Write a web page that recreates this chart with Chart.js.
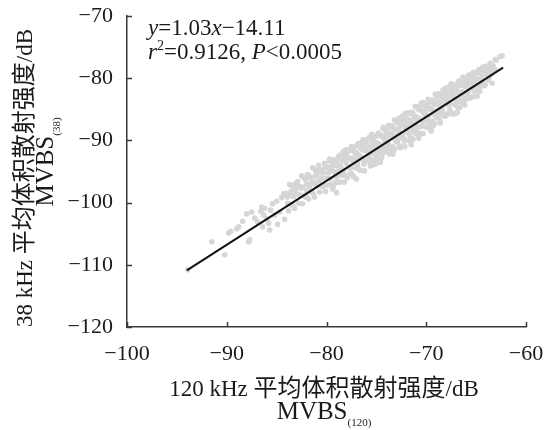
<!DOCTYPE html>
<html>
<head>
<meta charset="utf-8">
<script src="https://cdn.jsdelivr.net/npm/chart.js@4/dist/chart.umd.min.js"></script>
<style>
  html, body { margin: 0; padding: 0; background: #fff; }
  #wrap { width: 545px; height: 430px; position: relative; }
</style>
</head>
<body>
<div id="wrap"><canvas id="mvbsChart" width="545" height="430"></canvas></div>
<script>
// 120 kHz MVBS (x) and 38 kHz MVBS (y), dB
const mvbs120 = [
  -93.9, -91.5, -90.2, -89.8, -89.6, -89.0, -88.8, -88.4, -88.0, -87.8, -87.7, -87.5, -87.2, -86.9, -86.6, -86.5, -86.4, -86.3, -86.2, -86.0, -85.8, -85.7, -85.6, -85.4, -85.2, -85.0, -84.9, -84.7, -84.5, -84.3, -84.2,
  -84.0, -83.9, -83.8, -83.7, -83.6, -83.5, -83.4, -83.3, -83.2, -83.1,
  -83.0, -82.9, -82.8, -82.7, -82.6, -82.5, -82.4, -82.3, -82.2, -82.1, -82.05,
  -82.0, -81.9, -81.8, -81.7, -81.6, -81.5, -81.4, -81.3, -81.2, -81.1, -81.05,
  -81.0, -80.9, -80.8, -80.7, -80.6, -80.5, -80.4, -80.3, -80.2, -80.1, -80.05,
  -80.0, -79.9, -79.8, -79.7, -79.6, -79.5, -79.4, -79.3, -79.2, -79.1, -79.05, -79.0,
  -79.0, -78.9, -78.8, -78.7, -78.6, -78.5, -78.4, -78.3, -78.2, -78.1, -78.05, -78.75, -78.45, -78.15,
  -78.0, -77.9, -77.8, -77.7, -77.6, -77.5, -77.4, -77.3, -77.2, -77.1, -77.05, -77.85, -77.55, -77.25, -77.0,
  -77.0, -76.9, -76.8, -76.7, -76.6, -76.5, -76.4, -76.3, -76.2, -76.1, -76.85, -76.55, -76.25, -76.05, -76.75, -76.45,
  -76.0, -75.9, -75.8, -75.7, -75.6, -75.5, -75.4, -75.3, -75.2, -75.1, -75.95, -75.65, -75.35, -75.05, -75.75, -75.45, -75.15,
  -75.0, -74.9, -74.8, -74.7, -74.6, -74.5, -74.4, -74.3, -74.2, -74.1, -74.95, -74.65, -74.35, -74.05, -74.75, -74.45, -74.15,
  -74.0, -73.9, -73.8, -73.7, -73.6, -73.5, -73.4, -73.3, -73.2, -73.1, -73.95, -73.65, -73.35, -73.05, -73.75, -73.45, -73.15,
  -73.0, -72.9, -72.8, -72.7, -72.6, -72.5, -72.4, -72.3, -72.2, -72.1, -72.95, -72.65, -72.35, -72.05, -72.75, -72.45, -72.15,
  -72.0, -71.9, -71.8, -71.7, -71.6, -71.5, -71.4, -71.3, -71.2, -71.1, -71.95, -71.65, -71.35, -71.05, -71.75, -71.45, -71.15,
  -71.0, -70.9, -70.8, -70.7, -70.6, -70.5, -70.4, -70.3, -70.2, -70.1, -70.95, -70.65, -70.35, -70.05, -70.75, -70.45, -70.15,
  -70.0, -69.9, -69.8, -69.7, -69.6, -69.5, -69.4, -69.3, -69.2, -69.1, -69.95, -69.65, -69.35, -69.05, -69.75, -69.45, -69.15,
  -69.0, -68.9, -68.8, -68.7, -68.6, -68.5, -68.4, -68.3, -68.2, -68.1, -68.95, -68.65, -68.35, -68.05, -68.75, -68.45, -68.15,
  -68.0, -67.9, -67.8, -67.7, -67.6, -67.5, -67.4, -67.3, -67.2, -67.1, -67.95, -67.65, -67.35, -67.05, -67.75, -67.45, -67.15,
  -67.0, -66.9, -66.8, -66.7, -66.6, -66.5, -66.4, -66.3, -66.2, -66.1, -66.95, -66.65, -66.35, -66.05, -66.75, -66.45, -66.15, -66.8,
  -66.0, -65.9, -65.8, -65.7, -65.6, -65.5, -65.4, -65.3, -65.2, -65.1, -65.95, -65.65, -65.35, -65.05, -65.75, -65.25,
  -65.0, -64.9, -64.8, -64.7, -64.6, -64.5, -64.4, -64.3, -64.2, -64.1, -64.95, -64.65, -64.35, -64.05, -64.75, -64.45, -64.1,
  -64.0, -63.9, -63.8, -63.7, -63.6, -63.5, -63.4, -63.3, -63.1, -63.0, -62.6, -62.4, -63.1, -63.5,
  // second pass, filling the band
  -83.95, -83.75, -83.55, -83.35, -83.15,
  -82.95, -82.75, -82.55, -82.35, -82.15,
  -81.95, -81.75, -81.55, -81.35, -81.15,
  -80.95, -80.75, -80.55, -80.35, -80.15,
  -79.92, -79.82, -79.72, -79.62, -79.52, -79.42, -79.32, -79.22, -79.12, -79.02,
  -78.92, -78.82, -78.72, -78.62, -78.52, -78.42, -78.32, -78.22, -78.12, -78.02,
  -77.92, -77.82, -77.72, -77.62, -77.52, -77.42, -77.32, -77.22, -77.12, -77.02,
  -76.92, -76.82, -76.72, -76.62, -76.52, -76.42, -76.32, -76.22, -76.12, -76.02,
  -75.92, -75.82, -75.72, -75.62, -75.52, -75.42, -75.32, -75.22, -75.12, -75.02,
  -74.92, -74.82, -74.72, -74.62, -74.52, -74.42, -74.32, -74.22, -74.12, -74.02,
  -73.92, -73.82, -73.72, -73.62, -73.52, -73.42, -73.32, -73.22, -73.12, -73.02,
  -72.92, -72.82, -72.72, -72.62, -72.52, -72.42, -72.32, -72.22, -72.12, -72.02,
  -71.92, -71.82, -71.72, -71.62, -71.52, -71.42, -71.32, -71.22, -71.12, -71.02,
  -70.92, -70.82, -70.72, -70.62, -70.52, -70.42, -70.32, -70.22, -70.12, -70.02,
  -69.92, -69.82, -69.72, -69.62, -69.52, -69.42, -69.32, -69.22, -69.12, -69.02,
  -68.92, -68.82, -68.72, -68.62, -68.52, -68.42, -68.32, -68.22, -68.12, -68.02,
  -67.92, -67.82, -67.72, -67.62, -67.52, -67.42, -67.32, -67.22, -67.12, -67.02,
  -66.92, -66.82, -66.72, -66.62, -66.52, -66.42, -66.32, -66.22, -66.12, -66.02,
  -65.92, -65.82, -65.72, -65.62, -65.52, -65.42, -65.32, -65.22, -65.12, -65.02,
  -64.92, -64.82, -64.72, -64.62, -64.52, -64.42, -64.32, -64.22, -64.12, -64.02,
  -63.92, -63.72, -63.52, -63.32
];
const mvbs38 = [
  -110.8, -106.3, -108.4, -104.9, -104.6, -104.2, -103.9, -103.0, -101.8, -106.3, -106.0, -101.5, -102.5, -103.1, -101.4, -100.7, -103.9, -102.0, -100.9, -102.6, -103.3, -104.4, -101.2, -100.2, -102.0, -99.8, -103.5, -101.5, -99.2, -98.6, -102.7,
  -98.5, -100.1, -101.3, -97.1, -98.9, -100.4, -97.5, -99.0, -100.9, -97.9,
  -98.6, -96.6, -100.1, -97.4, -98.9, -95.7, -100.2, -97.5, -98.8, -96.3, -99.1,
  -97.0, -95.5, -99.4, -97.6, -96.0, -98.3, -94.4, -96.7, -99.1, -94.9, -97.2,
  -95.6, -97.3, -94.0, -98.3, -94.7, -96.1, -97.4, -95.2, -93.7, -98.2, -96.1,
  -94.3, -97.2, -95.2, -93.0, -96.2, -94.2, -97.8, -93.1, -95.1, -96.8, -94.0, -98.4,
  -93.5, -95.1, -96.7, -92.4, -94.1, -95.6, -92.6, -94.8, -96.7, -93.1, -91.5, -95.4, -93.2, -95.6,
  -93.7, -96.0, -91.7, -92.9, -94.4, -91.0, -93.4, -95.9, -91.7, -94.4, -90.9, -92.7, -95.3, -92.8, -96.2,
  -92.0, -93.9, -90.5, -92.5, -94.8, -90.9, -93.0, -91.6, -94.9, -90.0, -93.1, -91.3, -93.8, -91.6, -94.6, -90.3,
  -90.6, -93.1, -91.8, -89.5, -94.1, -90.7, -92.1, -89.5, -93.1, -90.8, -89.9, -93.0, -90.1, -93.8, -92.1, -89.0, -91.3,
  -90.4, -93.0, -88.8, -90.8, -93.5, -89.3, -91.2, -87.9, -89.6, -91.6, -89.3, -91.9, -89.4, -88.1, -91.2, -92.7, -90.0,
  -88.9, -90.9, -87.6, -92.2, -89.3, -87.9, -91.0, -89.5, -86.7, -89.8, -90.1, -87.9, -92.2, -88.2, -91.1, -88.8, -91.3,
  -87.1, -90.3, -88.3, -86.4, -91.2, -87.3, -88.9, -86.6, -90.1, -88.0, -89.2, -87.8, -89.5, -85.6, -89.6, -86.3, -91.0,
  -86.6, -88.7, -85.6, -90.0, -87.2, -90.7, -85.5, -88.4, -86.3, -84.5, -87.9, -89.1, -85.7, -88.9, -86.7, -87.7, -87.7,
  -86.2, -89.0, -84.6, -86.7, -87.8, -84.0, -85.3, -88.9, -85.8, -84.3, -86.7, -85.1, -87.0, -87.8, -89.6, -84.2, -85.5,
  -84.6, -86.8, -83.4, -88.1, -84.9, -88.5, -83.5, -85.8, -84.2, -82.6, -86.0, -83.9, -86.9, -85.8, -87.0, -85.1, -87.3,
  -83.8, -86.3, -82.5, -84.9, -87.2, -82.9, -85.2, -82.2, -83.7, -86.1, -82.9, -83.8, -86.0, -81.6, -85.8, -84.3, -82.8,
  -83.4, -85.8, -81.5, -82.6, -84.2, -80.9, -85.7, -83.0, -81.4, -84.3, -82.5, -85.1, -81.3, -82.3, -83.8, -82.2, -85.7,
  -81.1, -85.5, -82.3, -80.4, -83.6, -81.1, -84.1, -82.2, -80.2, -81.2, -82.0, -83.0, -80.2, -83.3, -81.2, -82.2, -84.3, -84.8,
  -80.8, -82.4, -79.7, -81.2, -83.2, -79.9, -81.5, -79.1, -82.1, -80.2, -83.3, -79.8, -80.6, -81.4, -81.5, -79.8,
  -79.2, -82.9, -80.2, -78.6, -81.3, -79.3, -80.2, -78.5, -81.2, -79.2, -80.6, -79.1, -80.8, -78.1, -82.1, -79.6, -81.1,
  -79.4, -78.2, -80.3, -78.6, -77.6, -79.3, -80.8, -78.0, -78.6, -77.1, -76.5, -76.4, -77.0, -77.9,
  // second pass
  -99.1, -100.2, -98.2, -100.5, -97.0,
  -97.4, -98.7, -97.7, -95.9, -99.0,
  -98.2, -95.7, -96.9, -98.5, -95.8,
  -94.7, -96.5, -95.2, -97.1, -94.3,
  -94.4, -96.1, -93.3, -97.1, -94.7, -93.4, -97.5, -95.0, -93.9, -95.9,
  -95.6, -92.7, -94.3, -96.7, -92.9, -94.7, -91.8, -95.6, -93.3, -92.2,
  -92.6, -94.3, -91.5, -95.3, -92.9, -91.6, -95.7, -93.2, -92.0, -94.0,
  -93.7, -90.8, -92.4, -94.8, -91.0, -92.8, -89.9, -93.7, -91.4, -90.3,
  -90.8, -92.5, -89.7, -93.5, -91.1, -89.8, -93.9, -91.4, -90.3, -92.3,
  -91.9, -89.0, -90.6, -93.0, -89.2, -91.0, -88.1, -91.9, -89.6, -88.5,
  -88.8, -90.4, -87.6, -91.4, -89.0, -87.7, -91.8, -89.3, -88.2, -90.2,
  -89.8, -86.9, -88.5, -90.9, -87.1, -88.9, -86.0, -89.8, -87.5, -86.4,
  -86.7, -88.4, -85.6, -89.4, -87.0, -85.7, -89.8, -87.3, -86.2, -88.2,
  -87.8, -84.9, -86.5, -88.9, -85.1, -86.8, -83.9, -87.7, -85.4, -84.3,
  -84.6, -86.3, -83.5, -87.3, -84.9, -83.6, -87.7, -85.2, -84.1, -86.1,
  -85.7, -82.8, -84.4, -86.8, -83.0, -84.8, -81.9, -85.7, -83.4, -82.3,
  -82.6, -84.3, -81.5, -85.3, -82.9, -81.6, -85.7, -83.2, -82.0, -84.0,
  -83.6, -80.7, -82.3, -84.7, -80.9, -82.7, -79.8, -83.6, -81.3, -80.2,
  -80.5, -82.2, -79.5, -83.0, -80.8, -79.5, -83.0, -81.1, -80.0, -82.0,
  -80.4, -78.8, -80.3, -82.1, -79.1, -80.7, -78.2, -81.1, -79.3, -78.4,
  -79.0, -80.0, -77.9, -78.7
];

// fitted line y = 1.03x - 14.11, end points
const fitX = [-94.0, -62.3];
const fitY = [-110.9, -78.3];

const xTicks = [-100, -90, -80, -70, -60];
const yTicks = [-120, -110, -100, -90, -80, -70];

const SERIF = '"Liberation Serif", "Times New Roman", serif';
const CJK = '"Noto Sans CJK SC", sans-serif';

function minus(v) {
  return String(v).replace('-', '\u2212');
}

// draw a row of text pieces (different fonts) centred on cx, baseline at cy
function drawRuns(ctx, runs, cx, cy, rot) {
  ctx.save();
  ctx.translate(cx, cy);
  ctx.rotate(rot || 0);
  ctx.textAlign = 'left';
  ctx.textBaseline = 'alphabetic';
  let total = 0;
  runs.forEach(function (r) {
    ctx.font = r.font;
    r.w = ctx.measureText(r.t).width;
    total += r.w;
  });
  let x = -total / 2;
  runs.forEach(function (r) {
    ctx.font = r.font;
    ctx.fillText(r.t, x, r.dy || 0);
    x += r.w;
  });
  ctx.restore();
}

function drawLeft(ctx, runs, x0, y0) {
  ctx.save();
  ctx.textAlign = 'left';
  ctx.textBaseline = 'alphabetic';
  let x = x0;
  runs.forEach(function (r) {
    ctx.font = r.font;
    ctx.fillText(r.t, x, y0 + (r.dy || 0));
    x += ctx.measureText(r.t).width;
  });
  ctx.restore();
}

const decorPlugin = {
  id: 'decor',
  afterDraw(chart) {
    const ctx = chart.ctx;
    const xs = chart.scales.x;
    const ys = chart.scales.y;
    const area = chart.chartArea;

    // inward tick marks
    ctx.save();
    ctx.strokeStyle = '#3a3a3a';
    ctx.lineWidth = 1.5;
    ctx.beginPath();
    xTicks.forEach(function (v) {
      const px = Math.round(xs.getPixelForValue(v)) + 0.5;
      ctx.moveTo(px, area.bottom);
      ctx.lineTo(px, area.bottom - 5);
    });
    yTicks.forEach(function (v) {
      const py = Math.round(ys.getPixelForValue(v)) + 0.5;
      ctx.moveTo(area.left, py);
      ctx.lineTo(area.left + 5, py);
    });
    ctx.stroke();
    ctx.restore();

    ctx.fillStyle = '#1a1a1a';

    // regression text
    const f = '23px ' + SERIF;
    const fi = 'italic 23px ' + SERIF;
    drawLeft(ctx, [
      { t: 'y', font: fi }, { t: '=1.03', font: f }, { t: 'x', font: fi }, { t: '\u221214.11', font: f }
    ], 148, 35);
    drawLeft(ctx, [
      { t: 'r', font: fi }, { t: '2', font: '14px ' + SERIF, dy: -9 }, { t: '=0.9126, ', font: f },
      { t: 'P', font: fi }, { t: '<0.0005', font: f }
    ], 148, 59);

    // x title
    const tf = '23px ' + SERIF;
    const mf = '25px ' + SERIF;
    const cf = '24px ' + CJK;
    drawRuns(ctx, [
      { t: '120 kHz ', font: tf }, { t: '平均体积散射强度', font: cf }, { t: '/dB', font: tf }
    ], 324, 396);
    drawRuns(ctx, [
      { t: 'MVBS', font: mf }, { t: '(120)', font: '11px ' + SERIF, dy: 7 }
    ], 324, 419);

    // y title (rotated)
    drawRuns(ctx, [
      { t: '38 kHz ', font: tf }, { t: '平均体积散射强度', font: cf }, { t: '/dB', font: tf }
    ], 32, 178, -Math.PI / 2);
    drawRuns(ctx, [
      { t: 'MVBS', font: mf }, { t: '(38)', font: '11px ' + SERIF, dy: 7 }
    ], 53, 162, -Math.PI / 2);
  }
};

const cloud = mvbs120.map(function (x, i) {
  return { x: x, y: mvbs38[i] };
});
const fitLine = fitX.map(function (x, i) {
  return { x: x, y: fitY[i] };
});

const ctx = document.getElementById('mvbsChart').getContext('2d');
new Chart(ctx, {
  type: 'scatter',
  data: {
    datasets: [
      {
        type: 'line',
        data: fitLine,
        borderColor: '#111',
        borderWidth: 2,
        pointRadius: 0,
        fill: false,
        order: 0
      },
      {
        data: cloud,
        backgroundColor: '#d6d6d6',
        borderWidth: 0,
        pointRadius: 2.8,
        order: 1
      }
    ]
  },
  options: {
    responsive: false,
    animation: false,
    layout: { padding: { top: 16, right: 19, left: 0, bottom: 0 } },
    plugins: {
      legend: { display: false },
      tooltip: { enabled: false }
    },
    scales: {
      x: {
        type: 'linear',
        min: -100,
        max: -60,
        afterBuildTicks: function (scale) {
          scale.ticks = xTicks.map(function (v) { return { value: v }; });
        },
        grid: { display: false, drawTicks: false },
        border: { display: true, color: '#3a3a3a', width: 1.5 },
        ticks: {
          padding: 14,
          color: '#1a1a1a',
          font: { family: SERIF, size: 22 },
          maxRotation: 0,
          callback: function (v) { return minus(v); }
        },
        afterFit: function (scale) {
          scale.height = 103;
          scale.paddingLeft = 0;
          scale.paddingRight = 0;
        }
      },
      y: {
        type: 'linear',
        min: -120,
        max: -70,
        afterBuildTicks: function (scale) {
          scale.ticks = yTicks.map(function (v) { return { value: v }; });
        },
        grid: { display: false, drawTicks: false },
        border: { display: true, color: '#3a3a3a', width: 1.5 },
        ticks: {
          padding: 14,
          color: '#1a1a1a',
          font: { family: SERIF, size: 22 },
          callback: function (v) { return minus(v); }
        },
        afterFit: function (scale) {
          scale.width = 127;
          scale.paddingTop = 0;
          scale.paddingBottom = 0;
        }
      }
    }
  },
  plugins: [decorPlugin]
});
</script>
</body>
</html>
